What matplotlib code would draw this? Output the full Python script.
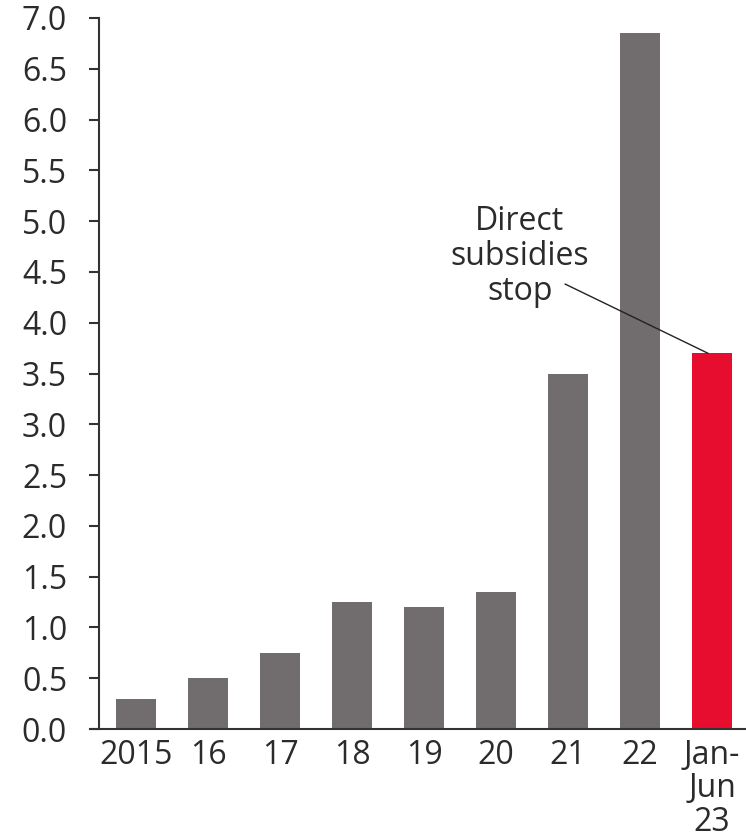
import matplotlib
matplotlib.use("Agg")
import matplotlib.pyplot as plt

labels = ["2015", "16", "17", "18", "19", "20", "21", "22", "Jan-\nJun\n23"]
values = [0.3, 0.5, 0.75, 1.25, 1.2, 1.35, 3.5, 6.85, 3.7]
bar_colors = ["#716c6d"] * 8 + ["#e60d2e"]
y_ticks = [i * 0.5 for i in range(15)]

plt.rcParams["font.family"] = ["Open Sans", "DejaVu Sans"]
text_col = "#2b2b2b"

fig = plt.figure(figsize=(7.46, 8.39), dpi=100)
ax = fig.add_axes([99 / 746, 1 - 729 / 839, 1 - 99 / 746, (729 - 18) / 839])

x = list(range(len(values)))
ax.bar(x, values, width=0.56, color=bar_colors, zorder=2)

ax.set_xlim(-0.514, 8.47)
ax.set_ylim(0, 7.0)
ax.set_yticks(y_ticks)
ax.set_yticklabels([f"{t:.1f}" for t in y_ticks])
ax.set_xticks(x)
ax.set_xticklabels(labels, linespacing=1.02)

for s in ["top", "right"]:
    ax.spines[s].set_visible(False)
for s in ["left", "bottom"]:
    ax.spines[s].set_color("#333333")
    ax.spines[s].set_linewidth(1.5)
ax.spines["bottom"].set_bounds(-0.64, 8.47)

ax.tick_params(axis="y", length=7, width=1.5, color="#333333",
               labelsize=23, labelcolor=text_col, pad=16)
ax.tick_params(axis="x", length=0, labelsize=23, labelcolor=text_col, pad=7)

# callout for the last bar
ax.text(5.33, 4.65, "Direct\nsubsidies\nstop", ha="center", va="center",
        fontsize=23, color=text_col, linespacing=1.08)
ax.plot([5.96, 7.94], [4.38, values[-1]], color="#222222", lw=1, zorder=3)

fig.savefig("out.png", dpi=100)
